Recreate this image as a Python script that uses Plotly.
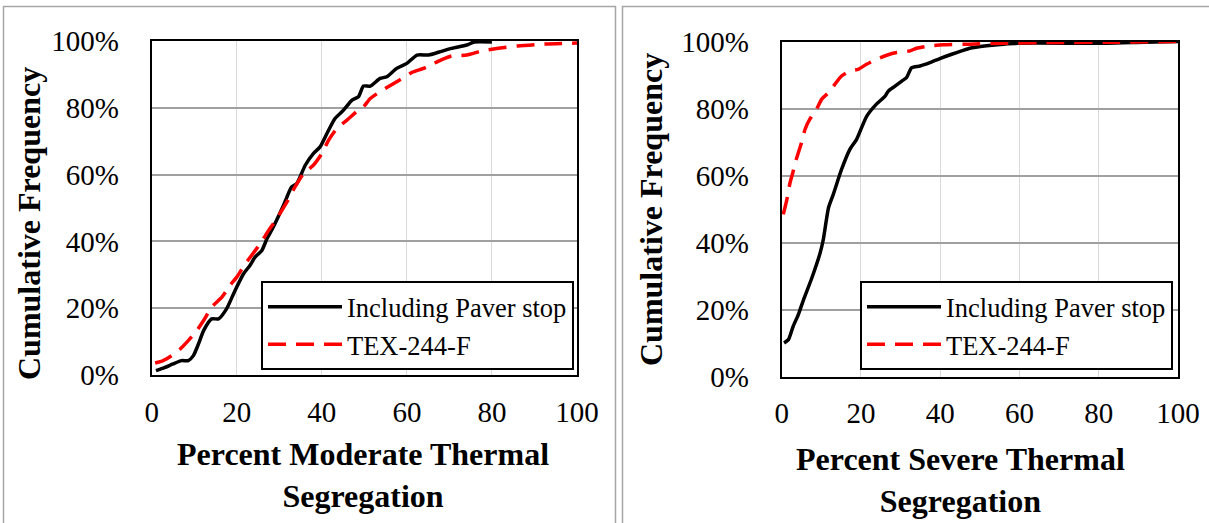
import plotly.graph_objects as go

# ---- data ----
moderate_incl_x = [1, 3, 5, 7, 8.6, 9.8, 11, 12.2, 14.1, 15.7, 17.6, 19.6, 21.6, 23.1, 24.3, 25.9, 27.1, 28.6, 31, 32.9,
                   34.1, 36.1, 38, 39.6, 41.2, 43.1, 45.1, 47.1, 48.6, 49.8, 51.4, 53.7, 55.3, 57.6, 60, 62.4, 65.1,
                   67.6, 70.5, 74.1, 75.8, 80]
moderate_incl_y = [1.3, 2.2, 3.3, 4.3, 4.3, 5.8, 9.3, 13.3, 16.8, 16.8, 19.8, 25.3, 30.3, 32.8, 35.3, 37.3, 40.8, 44.3,
                   50.8, 56.3, 57.3, 62.8, 66.3, 68.3, 72.3, 76.8, 79.3, 82.3, 83.3, 86.5, 86.5, 88.8, 89.3, 91.8, 93.3,
                   95.8, 95.8, 96.7, 97.8, 98.8, 99.7, 99.7]

moderate_tex_x = [0.8, 2.7, 4.7, 6.7, 8.6, 10.6, 12.2, 14.1, 16.5, 18.4, 20, 22, 23.9, 25.5, 27.5, 29.4, 31.8, 33.7,
                  35.7, 38, 40, 41.6, 43.5, 45.9, 48.6, 49.8, 51.4, 53.7, 56.9, 59.6, 61.2, 63.9, 66.3, 68, 70.5,
                  74.1, 77.8, 81.5, 86, 92.4, 100]
moderate_tex_y = [3.6, 4.3, 5.8, 7.8, 10.3, 13.3, 16.3, 20.3, 23.3, 26.8, 29.3, 33.3, 36.5, 39.3, 43.3, 46.8, 51.8,
                  56.3, 60.3, 62.8, 66.3, 70.3, 73.8, 76.3, 79.3, 80.3, 82.8, 84.8, 87.3, 89.3, 90.6, 91.8, 93.3, 94.3,
                  95.5, 95.8, 97.1, 97.8, 98.5, 99.1, 99.4]

severe_incl_x = [0.6, 1.7, 2.9, 4.2, 5.5, 7.6, 9.7, 10.5, 11.8, 13, 15.1, 17.2, 18.9, 21.4, 23.9, 26.1, 26.9, 28.6,
                 30.3, 31.5, 32.8, 34.9, 37.4, 39.9, 42.9, 45.4, 47.5, 51.7, 55.9, 59.7, 81.9, 91.5, 100]
severe_incl_y = [10.0, 11.0, 15.0, 18.5, 22.9, 29.4, 36.9, 40.9, 50.3, 54.3, 61.8, 67.8, 70.8, 77.6, 81.3, 83.7, 85.2,
                 86.7, 88.2, 89.2, 92.2, 92.7, 93.7, 94.9, 96.2, 97.2, 98.0, 98.7, 99.2, 99.5, 99.5, 99.8, 100]

severe_tex_x = [0.4, 1.3, 2.1, 2.8, 3.4, 4.2, 5, 5.9, 7.1, 8.8, 10.1, 11.8, 13.4, 15.1, 17.2, 19.3, 21.4, 23.9, 26.5,
                29, 32.4, 34, 37.4, 40.8, 47.5, 55.9, 70, 85, 100]
severe_tex_y = [48.4, 52.8, 57.8, 60.8, 63.8, 66.8, 69.8, 73.8, 76.8, 79.8, 82.8, 84.7, 87.2, 89.7, 91.2, 91.7, 93.2,
                94.7, 95.9, 96.7, 97.2, 98.0, 98.7, 99.0, 99.2, 99.5, 99.7, 99.8, 100]

series_names = ["Including Paver stop", "TEX-244-F"]
x_titles = ["Percent Moderate Thermal<br>Segregation", "Percent Severe Thermal<br>Segregation"]
y_title = "Cumulative Frequency"
x_ticks = [0, 20, 40, 60, 80, 100]
x_tick_labels = ["0", "20", "40", "60", "80", "100"]
y_ticks = [0, 20, 40, 60, 80, 100]
y_tick_labels = ["0%", "20%", "40%", "60%", "80%", "100%"]

W, H = 1209, 523
SERIF = "Liberation Serif"


def px_x(p):
    return p / W


def px_y(p):
    return 1 - p / H


fig = go.Figure()

solid = dict(color="black", width=3.5, shape="spline", smoothing=0.6)
dashed = dict(color="#ff0000", width=3.5, dash="18px,10px", shape="spline", smoothing=0.6)

fig.add_trace(go.Scatter(x=moderate_incl_x, y=moderate_incl_y, mode="lines", line=solid,
                         name=series_names[0], xaxis="x", yaxis="y", legend="legend"))
fig.add_trace(go.Scatter(x=moderate_tex_x, y=moderate_tex_y, mode="lines", line=dashed,
                         name=series_names[1], xaxis="x", yaxis="y", legend="legend"))
fig.add_trace(go.Scatter(x=severe_incl_x, y=severe_incl_y, mode="lines", line=solid,
                         name=series_names[0], xaxis="x2", yaxis="y2", legend="legend2"))
fig.add_trace(go.Scatter(x=severe_tex_x, y=severe_tex_y, mode="lines", line=dashed,
                         name=series_names[1], xaxis="x2", yaxis="y2", legend="legend2"))

tick_font = dict(family=SERIF, size=29, color="black")


def make_xaxis(domain, anchor):
    return dict(range=[0, 100], tickmode="array", tickvals=x_ticks, ticktext=x_tick_labels,
                showgrid=True, gridcolor="#d9d9d9", gridwidth=1,
                showline=True, linecolor="black", linewidth=2, mirror=True, zeroline=False,
                ticks="outside", ticklen=10, tickcolor="rgba(0,0,0,0)", automargin=False,
                tickfont=dict(tick_font), domain=domain, anchor=anchor)


def make_yaxis(domain, anchor):
    return dict(range=[0, 100], tickmode="array", tickvals=y_ticks, ticktext=y_tick_labels,
                showgrid=True, gridcolor="#a0a0a0", gridwidth=1.5,
                showline=True, linecolor="black", linewidth=2, mirror=True, zeroline=False,
                ticks="outside", ticklen=25, tickcolor="rgba(0,0,0,0)", automargin=False,
                tickfont=dict(tick_font), domain=domain, anchor=anchor)


def make_legend(x, y):
    return dict(font=dict(family=SERIF, size=26.5, color="black"), bgcolor="white",
                bordercolor="black", borderwidth=2, xanchor="right", yanchor="bottom",
                tracegroupgap=0, itemwidth=74, x=x, y=y)


fig.update_layout(
    template="none",
    width=W, height=H,
    margin=dict(l=0, r=0, t=0, b=0, pad=0, autoexpand=False),
    paper_bgcolor="white", plot_bgcolor="white",
    font=dict(family=SERIF, color="black"),
    xaxis=make_xaxis([px_x(151.7), px_x(577)], "y"),
    yaxis=make_yaxis([px_y(375), px_y(41)], "x"),
    xaxis2=make_xaxis([px_x(781.7), px_x(1178)], "y2"),
    yaxis2=make_yaxis([px_y(376.5), px_y(41.5)], "x2"),
    legend=make_legend(px_x(574), px_y(370)),
    legend2=make_legend(px_x(1173), px_y(370)),
    showlegend=True,
)

# panel frames
fig.add_shape(type="rect", xref="paper", yref="paper", x0=px_x(3.5), x1=px_x(615.5), y0=px_y(540), y1=px_y(6.5),
              line=dict(color="#a6a6a6", width=1.5), layer="below")
fig.add_shape(type="rect", xref="paper", yref="paper", x0=px_x(622.5), x1=px_x(1230), y0=px_y(540), y1=px_y(6.5),
              line=dict(color="#a6a6a6", width=1.5), layer="below")

title_font = dict(family=SERIF, size=32, color="black", weight="bold")
fig.add_annotation(text=x_titles[0], xref="paper", yref="paper", x=px_x(363), y=px_y(475),
                   showarrow=False, font=title_font, xanchor="center", yanchor="middle")
fig.add_annotation(text=x_titles[1], xref="paper", yref="paper", x=px_x(960), y=px_y(480),
                   showarrow=False, font=title_font, xanchor="center", yanchor="middle")
fig.add_annotation(text=y_title, xref="paper", yref="paper", x=px_x(29), y=px_y(224), textangle=-90,
                   showarrow=False, font=title_font, xanchor="center", yanchor="middle")
fig.add_annotation(text=y_title, xref="paper", yref="paper", x=px_x(651), y=px_y(210), textangle=-90,
                   showarrow=False, font=title_font, xanchor="center", yanchor="middle")

fig.write_html("out.html", config={"displayModeBar": False},
               post_script="document.body.style.margin='0';document.body.style.overflow='hidden';")
